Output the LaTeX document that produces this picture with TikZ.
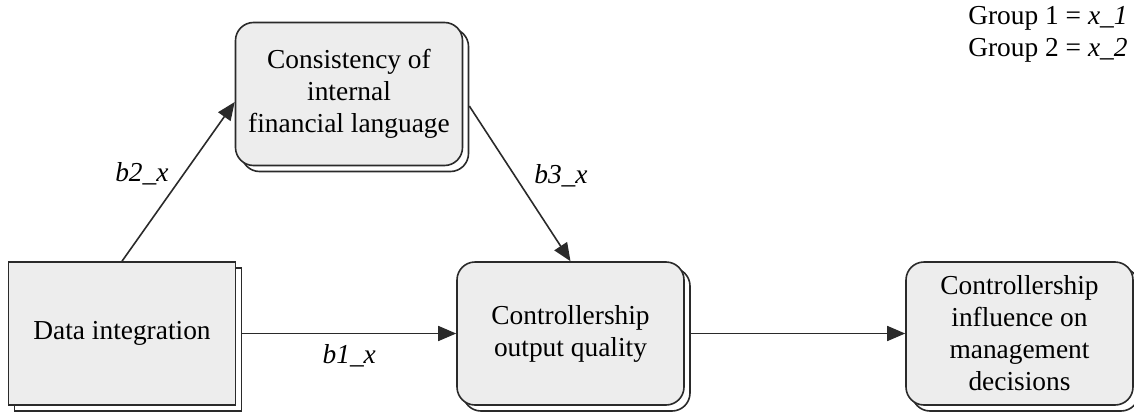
\documentclass[tikz,border=0pt]{standalone}
\usepackage{fontspec}
\setmainfont{Liberation Serif}
\usepackage{xcolor}
\usepackage{tikz}
\usetikzlibrary{arrows.meta,shadows}

\definecolor{boxfill}{HTML}{EDEDED}
\definecolor{boxline}{HTML}{2A2A2A}

\begin{document}
\begin{tikzpicture}[
    x=0.5pt, y=-0.5pt,
    every node/.style={font=\fontsize{13.7}{16}\selectfont},
    block/.style={rectangle, draw=boxline, line width=0.8pt, fill=boxfill,
        minimum width=113.5pt, minimum height=71.5pt, align=center, inner sep=2pt,
        copy shadow={shadow xshift=3pt, shadow yshift=-3pt, fill=white, draw=boxline, line width=0.8pt}},
    rblock/.style={block, rounded corners=9pt},
    arrow/.style={-{Triangle[length=9pt,width=7.5pt]}, line width=0.8pt, draw=boxline},
    coef/.style={font=\fontsize{13.7}{16}\selectfont\itshape}
]
    \useasboundingbox (0,0) rectangle (1134,412);

    \node[block] (data) at (122,333.5) {Data integration};
    \node[rblock] (consist) at (349,94) {Consistency of\\internal\\financial language};
    \node[rblock] (output) at (570.5,333.5) {Controllership\\output quality};
    \node[rblock] (influence) at (1019.5,333.5) {Controllership\\influence on\\management\\decisions};

    \node[anchor=north east, align=right, inner sep=0pt] (groups) at (1128,6)
        {Group 1 = \textit{x\_1}\\Group 2 = \textit{x\_2}};

    \draw[arrow] (data.north) -- node[coef, pos=0.55, left=4pt] {b2\_x} ([yshift=-4pt]consist.west);
    \draw[arrow] ([xshift=3pt,yshift=-6pt]consist.east) -- node[coef, pos=0.45, right=6pt] {b3\_x} (output.north);
    \draw[arrow] ([xshift=3pt]data.east) -- node[coef, below=2pt] {b1\_x} (output.west);
    \draw[arrow] ([xshift=3pt]output.east) -- (influence.west);
\end{tikzpicture}
\end{document}
